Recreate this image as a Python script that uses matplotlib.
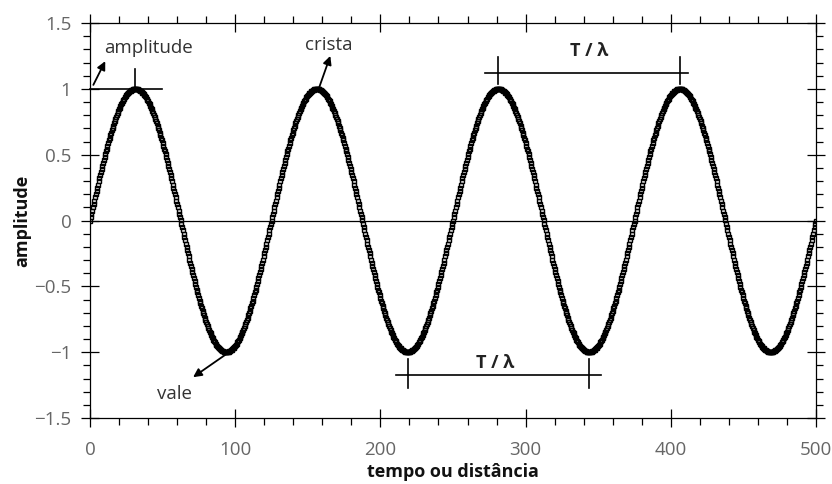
import numpy as np
import matplotlib
matplotlib.use("Agg")
import matplotlib.pyplot as plt
from matplotlib.ticker import MultipleLocator, FuncFormatter

AMPLITUDE = 1.0
PERIOD = 125.0
X_START, X_STOP, X_STEP = 0.0, 500.0, 0.5

X_TICKS = [0, 100, 200, 300, 400, 500]
Y_TICKS = [-1.5, -1, -0.5, 0, 0.5, 1, 1.5]

# annotation texts and where they sit (data coords)
LABELS = ["amplitude", "crista", "vale"]
LABEL_POS = [(40, 1.31), (164.5, 1.335), (58.5, -1.315)]
ARROW_TAIL = [(2.3, 1.03), (157.5, 1.0), (94.5, -1.01)]
ARROW_HEAD = [(10.5, 1.21), (165.5, 1.25), (71, -1.19)]

# period brackets: (x_left_line, x_right_line, y_line, tick_x0, tick_x1, y_lo, y_hi, text_x, text_y)
BRACKETS = [
    (272, 412, 1.124, 281.25, 406.25, 1.04, 1.24, 344, 1.29),
    (211, 352, -1.177, 218.75, 343.75, -1.275, -1.055, 279, -1.085),
]
AMP_LINE = (0, 49.5, 1.0)
AMP_TICK = (31.25, 0.985, 1.15)

x = np.arange(X_START, X_STOP + X_STEP / 2, X_STEP)
y = AMPLITUDE * np.sin(2 * np.pi * x / PERIOD)

plt.rcParams["font.family"] = ["Open Sans", "DejaVu Sans"]

fig = plt.figure(figsize=(8.32, 4.84), dpi=100)
ax = fig.add_axes([90 / 832, 66 / 484, 726 / 832, 395 / 484])

ax.plot(x, y, "s", ms=3.0, mfc="none", mec="black", mew=1.0)
ax.axhline(0, color="black", lw=0.9)

# amplitude marker
ax.plot([AMP_LINE[0], AMP_LINE[1]], [AMP_LINE[2], AMP_LINE[2]], color="black", lw=1.2, clip_on=False)
ax.plot([AMP_TICK[0], AMP_TICK[0]], [AMP_TICK[1], AMP_TICK[2]], color="black", lw=1.2)

for xl, xr, yl, t0, t1, ylo, yhi, tx, ty in BRACKETS:
    ax.plot([xl, xr], [yl, yl], color="black", lw=1.2)
    ax.plot([t0, t0], [ylo, yhi], color="black", lw=1.2)
    ax.plot([t1, t1], [ylo, yhi], color="black", lw=1.2)
    ax.text(tx, ty, "T / λ", ha="center", va="center", fontsize=13,
            fontweight="bold", color="#222222")

for label, pos, tail, head in zip(LABELS, LABEL_POS, ARROW_TAIL, ARROW_HEAD):
    ax.text(pos[0], pos[1], label, ha="center", va="center", fontsize=13.5, color="#333333")
    ax.annotate("", xy=head, xytext=tail,
                arrowprops=dict(arrowstyle="-|>,head_length=0.5,head_width=0.25",
                                color="black", lw=1.3, shrinkA=0, shrinkB=0))

ax.set_xlim(0, 500)
ax.set_ylim(-1.5, 1.5)
ax.set_xticks(X_TICKS)
ax.set_yticks(Y_TICKS)
ax.xaxis.set_minor_locator(MultipleLocator(20))
ax.yaxis.set_minor_locator(MultipleLocator(0.1))
ax.yaxis.set_major_formatter(FuncFormatter(lambda v, p: f"{v:g}".replace("-", "\u2212")))

ax.tick_params(which="major", direction="inout", length=13, width=0.9,
               top=True, right=True, labelsize=13.5, labelcolor="#666666")
ax.tick_params(axis="x", which="major", pad=10)
ax.tick_params(axis="y", which="major", pad=7)
ax.tick_params(which="minor", direction="out", length=5, width=0.9, top=True, right=True)
for spine in ax.spines.values():
    spine.set_linewidth(0.9)

ax.set_xlabel("tempo ou distância", fontsize=13, fontweight="bold", color="#111111", labelpad=3)
ax.set_ylabel("amplitude", fontsize=13, fontweight="bold", color="#111111", labelpad=2)

fig.savefig("out.png", dpi=100)
